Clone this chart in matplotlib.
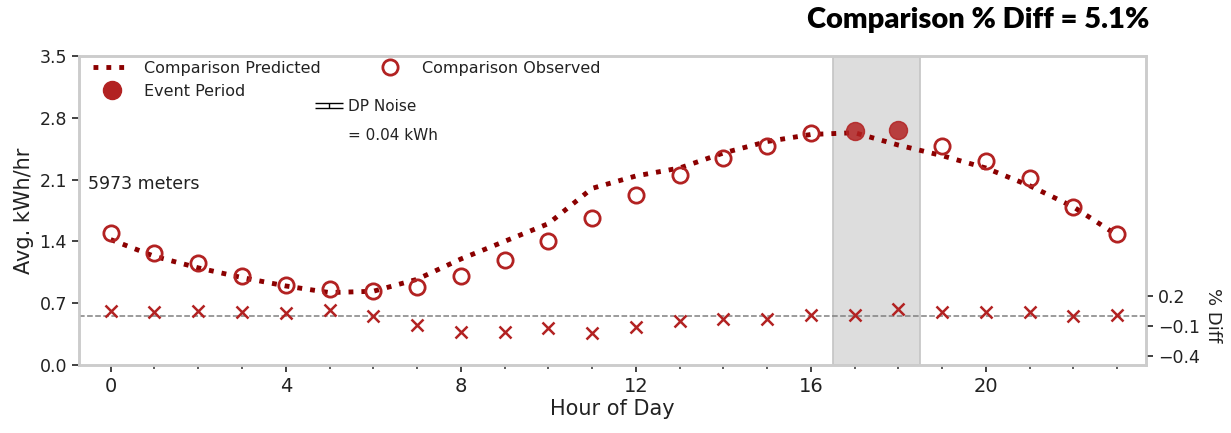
import numpy as np
import matplotlib
matplotlib.use("Agg")
import matplotlib.pyplot as plt
from matplotlib.legend_handler import HandlerErrorbar
from matplotlib.lines import Line2D

plt.rcParams["font.family"] = ["DejaVu Sans"]

# hourly averages, kWh per meter-hour
hours = np.arange(24)
predicted = [1.42, 1.23, 1.10, 0.99, 0.895, 0.82, 0.835, 0.97, 1.20, 1.40, 1.60, 2.00,
             2.14, 2.23, 2.40, 2.53, 2.61, 2.63, 2.49, 2.37, 2.23, 2.03, 1.79, 1.47]
observed = [1.50, 1.27, 1.155, 1.01, 0.91, 0.865, 0.84, 0.88, 1.01, 1.19, 1.40, 1.67,
            1.93, 2.15, 2.34, 2.485, 2.625, 2.65, 2.66, 2.48, 2.31, 2.12, 1.79, 1.485]
pct_diff = [0.053, 0.037, 0.053, 0.037, 0.027, 0.06, 0.003, -0.09, -0.163, -0.157, -0.117, -0.167,
            -0.107, -0.05, -0.03, -0.03, 0.007, 0.007, 0.07, 0.043, 0.043, 0.037, -0.003, 0.01]
event_hours = [17, 18]
n_meters = 5973
dp_noise = 0.04
overall_diff = 5.1

red = "#b22222"
spine_col = "#cccccc"
txt_col = "#222222"

fig = plt.figure(figsize=(12.31, 4.33), dpi=100)
ax = fig.add_axes([0.064, 0.157, 0.867, 0.714])

ax.axvspan(16.5, 18.5, facecolor="#dddddd", edgecolor="#c4c4c4", lw=1.2, zorder=0)

ax.plot(hours, predicted, ls=":", color="darkred", lw=3.5, zorder=3)
normal = np.array([h not in event_hours for h in hours])
obs = np.array(observed)
ax.plot(hours[normal], obs[normal], "o", ms=11, mfc="none", mec=red, mew=2, ls="none", zorder=4)
ax.plot(hours[~normal], obs[~normal], "o", ms=13, color=red, alpha=0.85, ls="none", zorder=4)

ax.set_xlim(-0.73, 23.66)
ax.set_ylim(0, 3.5)
yt = np.arange(0, 3.51, 0.7)
ax.set_yticks(yt)
ax.set_yticklabels([f"{v:.1f}" for v in yt])
ax.set_xticks([0, 4, 8, 12, 16, 20])
ax.set_xticks(hours, minor=True)
ax.tick_params(axis="both", labelsize=12.5, length=5, width=1.3, color="#333333", labelcolor=txt_col)
ax.tick_params(axis="x", which="minor", length=3, width=1.1, color="#333333")
ax.tick_params(axis="x", labelsize=14)
ax.set_xlabel("Hour of Day", fontsize=15, color=txt_col, labelpad=2)
ax.set_ylabel("Avg. kWh/hr", fontsize=15, color=txt_col)
for s in ax.spines.values():
    s.set_color(spine_col)
    s.set_linewidth(1.8)

ax.text(0.009, 0.584, f"{n_meters} meters", transform=ax.transAxes, fontsize=12.5, color=txt_col,
        va="center", ha="left")

# percent difference on a second y axis
ax2 = ax.twinx()
ax2.axhline(0, color="gray", ls="--", lw=1.1, zorder=1)
ax2.plot(hours, pct_diff, "x", color=red, ms=9, mew=1.8, ls="none", zorder=5)
ax2.set_ylim(-0.49, 2.60)
ax2.set_yticks([0.2, -0.1, -0.4])
ax2.tick_params(axis="y", labelsize=12.5, length=5, width=1.3, color="#333333", labelcolor=txt_col)
ax2.set_ylabel("% Diff", rotation=270, fontsize=13, color=txt_col)
ax2.yaxis.set_label_coords(1.071, 0.16)
for s in ax2.spines.values():
    s.set_color(spine_col)
    s.set_linewidth(1.8)

handles = [
    Line2D([], [], ls=":", color="darkred", lw=3.5),
    Line2D([], [], marker="o", ls="none", ms=13, color=red),
    Line2D([], [], marker="o", ls="none", ms=11, mfc="none", mec=red, mew=2),
]
labels = ["Comparison Predicted", "Event Period", "Comparison Observed"]
leg = ax.legend(handles, labels, ncol=2, loc="upper left", frameon=False, fontsize=11.5,
                bbox_to_anchor=(0.0, 1.03), columnspacing=3.1, handlelength=2.4,
                labelspacing=0.5, labelcolor=txt_col)
ax.add_artist(leg)

# DP noise shown as an errorbar handle, drawn off the plotted range
eb = ax.errorbar([-10], [-10], yerr=dp_noise, fmt="none", ecolor="black", elinewidth=1, capsize=10)
blank = Line2D([], [], ls="none")
leg2 = ax.legend([eb, blank], ["DP Noise", f"= {dp_noise} kWh"], loc="upper left", frameon=False,
                 fontsize=11, bbox_to_anchor=(0.2075, 0.905), handlelength=2.0, handletextpad=0.2,
                 labelspacing=0.9,
                 handler_map={type(eb): HandlerErrorbar(yerr_size=0.15)}, labelcolor=txt_col)

fig.text(0.934, 0.954, f"Comparison % Diff = {overall_diff}%", ha="right", va="center",
         fontsize=21, fontweight="heavy", family="Lato")

fig.savefig("out.png", dpi=100)
